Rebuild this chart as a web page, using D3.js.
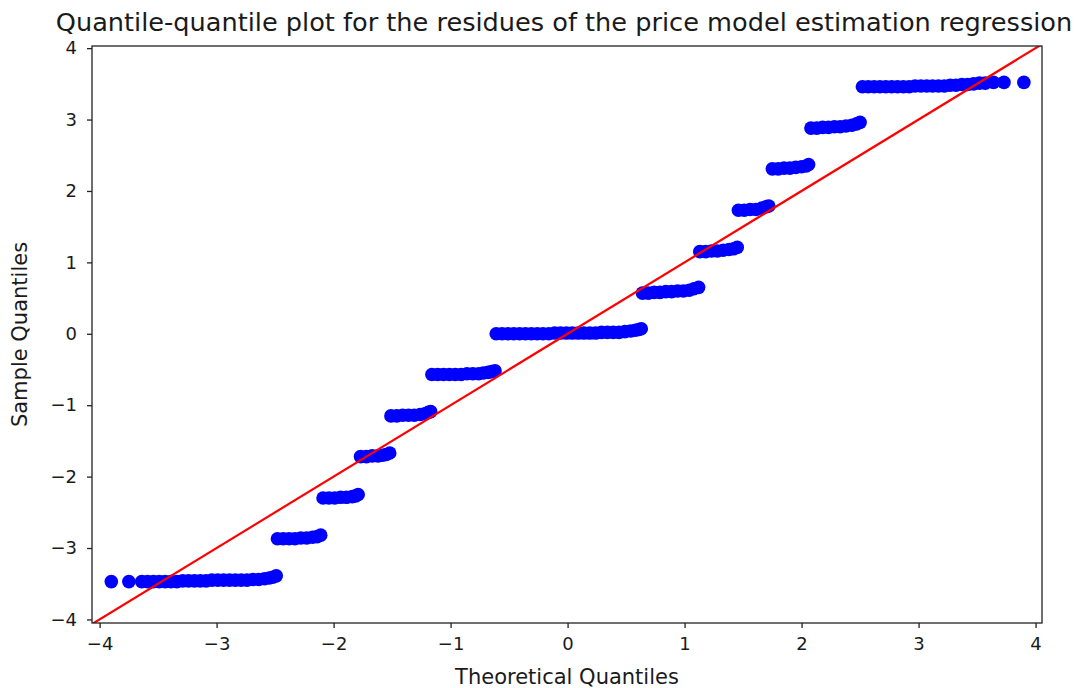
<html>
<head>
<meta charset="utf-8">
<script src="https://d3js.org/d3.v7.min.js"></script>
<style>
  body { margin: 0; background: #fff; }
  text { font-family: "DejaVu Sans", sans-serif; fill: #1a1a1a; }
</style>
</head>
<body>
<div id="chart"></div>
<script>
var theoretical = [
  -3.90, -3.75, -3.64, -3.59, -3.54, -3.49, -3.44, -3.39, -3.34, -3.29, -3.24, -3.19, -3.14, -3.09,
  -3.04, -2.99, -2.94, -2.89, -2.84, -2.79, -2.74, -2.69, -2.64, -2.59, -2.55, -2.52, -2.49,
  -2.48, -2.43, -2.38, -2.33, -2.28, -2.23, -2.18, -2.14, -2.11,
  -2.09, -2.04, -1.99, -1.94, -1.89, -1.84, -1.81, -1.79,
  -1.77, -1.72, -1.67, -1.62, -1.58, -1.55, -1.52,
  -1.51, -1.46, -1.41, -1.36, -1.31, -1.26, -1.22, -1.19, -1.17,
  -1.16, -1.11, -1.06, -1.01, -0.96, -0.91, -0.86, -0.81, -0.76, -0.72, -0.68, -0.65, -0.62,
  -0.61, -0.56, -0.51, -0.46, -0.41, -0.36, -0.31, -0.26, -0.21, -0.16, -0.11, -0.06, -0.01,
  0.04, 0.09, 0.14, 0.19, 0.24, 0.29, 0.34, 0.39, 0.44, 0.49, 0.54, 0.58, 0.61, 0.63,
  0.64, 0.69, 0.74, 0.79, 0.84, 0.89, 0.94, 0.99, 1.04, 1.08, 1.12,
  1.13, 1.18, 1.23, 1.28, 1.33, 1.38, 1.42, 1.45,
  1.46, 1.51, 1.56, 1.61, 1.66, 1.70, 1.72,
  1.75, 1.80, 1.85, 1.90, 1.95, 2.00, 2.04, 2.06,
  2.08, 2.13, 2.18, 2.23, 2.28, 2.33, 2.38, 2.43, 2.47, 2.50,
  2.52, 2.57, 2.62, 2.67, 2.72, 2.77, 2.82, 2.87, 2.92, 2.97, 3.02, 3.07, 3.12, 3.17,
  3.22, 3.27, 3.32, 3.37, 3.42, 3.47, 3.52, 3.57, 3.64, 3.73, 3.90
];
var sample = [
  -3.47, -3.47, -3.47, -3.47, -3.47, -3.47, -3.47, -3.47, -3.47, -3.46, -3.46, -3.46, -3.46, -3.46,
  -3.45, -3.45, -3.45, -3.45, -3.45, -3.45, -3.45, -3.44, -3.44, -3.43, -3.42, -3.41, -3.39,
  -2.87, -2.87, -2.87, -2.87, -2.86, -2.86, -2.85, -2.84, -2.82,
  -2.30, -2.30, -2.30, -2.29, -2.29, -2.28, -2.27, -2.25,
  -1.72, -1.72, -1.71, -1.71, -1.70, -1.69, -1.67,
  -1.15, -1.15, -1.14, -1.14, -1.14, -1.13, -1.12, -1.10, -1.09,
  -0.57, -0.57, -0.57, -0.57, -0.57, -0.57, -0.56, -0.56, -0.56, -0.55, -0.54, -0.53, -0.52,
  0.00, 0.00, 0.00, 0.00, 0.00, 0.00, 0.00, 0.00, 0.00, 0.00, 0.01, 0.01, 0.01,
  0.01, 0.01, 0.01, 0.01, 0.01, 0.02, 0.02, 0.02, 0.02, 0.03, 0.04, 0.05, 0.06, 0.07,
  0.57, 0.57, 0.58, 0.58, 0.59, 0.59, 0.60, 0.60, 0.61, 0.63, 0.65,
  1.15, 1.15, 1.16, 1.16, 1.17, 1.18, 1.19, 1.21,
  1.73, 1.73, 1.74, 1.74, 1.76, 1.78, 1.79,
  2.31, 2.31, 2.32, 2.32, 2.33, 2.34, 2.35, 2.37,
  2.88, 2.88, 2.89, 2.89, 2.90, 2.90, 2.91, 2.92, 2.94, 2.96,
  3.46, 3.46, 3.46, 3.46, 3.46, 3.46, 3.46, 3.46, 3.46, 3.47, 3.47, 3.47, 3.47, 3.47,
  3.47, 3.48, 3.48, 3.49, 3.49, 3.50, 3.51, 3.51, 3.52, 3.52, 3.52
];
var xTicks = [-4, -3, -2, -1, 0, 1, 2, 3, 4];
var yTicks = [-4, -3, -2, -1, 0, 1, 2, 3, 4];
var xLimits = [-4.065, 4.055];
var yLimits = [-4.05, 4.03];
var lineEnds = [-4.1, 4.1]; // 45 degree reference line

var width = 1080, height = 688;
var margin = {left: 92, right: 38, top: 46, bottom: 65};

var svg = d3.select('#chart').append('svg').attr('width', width).attr('height', height);

var x = d3.scaleLinear().domain(xLimits).range([margin.left, width - margin.right]);
var y = d3.scaleLinear().domain(yLimits).range([height - margin.bottom, margin.top]);

svg.append('clipPath').attr('id', 'plotclip')
  .append('rect')
  .attr('x', margin.left).attr('y', margin.top)
  .attr('width', width - margin.left - margin.right)
  .attr('height', height - margin.top - margin.bottom);

var pts = theoretical.map((d, i) => ({tx: d, sy: sample[i]}));

svg.append('g').attr('clip-path', 'url(#plotclip)')
  .selectAll('circle').data(pts).enter().append('circle')
  .attr('cx', d => x(d.tx))
  .attr('cy', d => y(d.sy))
  .attr('r', 6.8)
  .attr('fill', '#0000ff');

svg.append('g').attr('clip-path', 'url(#plotclip)')
  .append('line')
  .attr('x1', x(lineEnds[0])).attr('y1', y(lineEnds[0]))
  .attr('x2', x(lineEnds[1])).attr('y2', y(lineEnds[1]))
  .attr('stroke', '#ff0000')
  .attr('stroke-width', 2.2);

// axes
var fmt = d3.format('d');
var xAxis = svg.append('g')
  .attr('transform', `translate(0,${height - margin.bottom})`)
  .call(d3.axisBottom(x).tickValues(xTicks).tickSize(5).tickPadding(9).tickFormat(fmt));
var yAxis = svg.append('g')
  .attr('transform', `translate(${margin.left},0)`)
  .call(d3.axisLeft(y).tickValues(yTicks).tickSize(5).tickPadding(10).tickFormat(fmt));
[xAxis, yAxis].forEach(a => {
  a.select('.domain').remove();
  a.selectAll('.tick line').attr('stroke', '#222').attr('stroke-width', 1.3);
  a.selectAll('.tick text').style('font-family', '"DejaVu Sans", sans-serif')
    .style('font-size', '18px').attr('fill', '#1a1a1a');
});

// frame
svg.append('rect')
  .attr('x', margin.left).attr('y', margin.top)
  .attr('width', width - margin.left - margin.right)
  .attr('height', height - margin.top - margin.bottom)
  .attr('fill', 'none').attr('stroke', '#222').attr('stroke-width', 1.3);

svg.append('text')
  .attr('x', (margin.left + width - margin.right) / 2)
  .attr('y', 684)
  .attr('text-anchor', 'middle')
  .style('font-size', '21px')
  .text('Theoretical Quantiles');

svg.append('text')
  .attr('transform', `translate(27,${(margin.top + height - margin.bottom) / 2}) rotate(-90)`)
  .attr('text-anchor', 'middle')
  .style('font-size', '21px')
  .text('Sample Quantiles');

svg.append('text')
  .attr('x', 564)
  .attr('y', 31)
  .attr('text-anchor', 'middle')
  .style('font-size', '25.6px')
  .text('Quantile-quantile plot for the residues of the price model estimation regression');
</script>
</body>
</html>
